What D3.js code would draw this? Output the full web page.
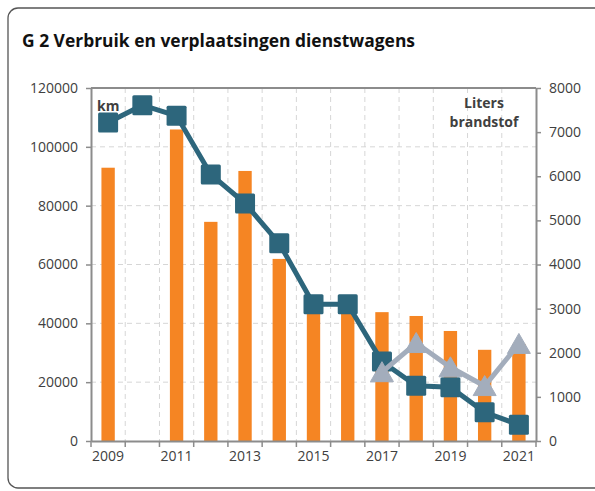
<!DOCTYPE html>
<html>
<head>
<meta charset="utf-8">
<script src="https://cdn.jsdelivr.net/npm/d3@7"></script>
<style>
  body { margin: 0; background: #fff; }
  text { font-family: "Open Sans", "DejaVu Sans", sans-serif; }
</style>
</head>
<body>
<div id="chart"></div>
<script>
// data
const years = ['2009', '2010', '2011', '2012', '2013', '2014', '2015', '2016', '2017', '2018', '2019', '2020', '2021'];
const yearLabels = ['2009', '2011', '2013', '2015', '2017', '2019', '2021'];
const kmValues = [92900, null, 105900, 74500, 91800, 61900, 45000, 44500, 43800, 42500, 37400, 31000, 33000];
const litersLine1 = [7220, 7610, 7370, 6040, 5385, 4480, 3100, 3100, 1800, 1250, 1220, 650, 370];
const litersLine2 = [null, null, null, null, null, null, null, null, 1560, 2220, 1670, 1245, 2200];
const leftTicks = [0, 20000, 40000, 60000, 80000, 100000, 120000];
const rightTicks = [0, 1000, 2000, 3000, 4000, 5000, 6000, 7000, 8000];

const width = 595;
const height = 491;
const plot = { left: 91, right: 536, top: 88, bottom: 441 };

const svg = d3.select('#chart')
    .append('svg')
    .attr('width', width)
    .attr('height', height);

// outer frame
svg.append('rect')
    .attr('x', 8).attr('y', 8)
    .attr('width', 620).attr('height', 480)
    .attr('rx', 10)
    .attr('fill', 'none')
    .attr('stroke', '#555')
    .attr('stroke-width', 1.3);

svg.append('text')
    .attr('x', 22).attr('y', 47)
    .attr('font-size', 18)
    .attr('font-weight', 'bold')
    .attr('fill', '#111')
    .attr('textLength', 393)
    .attr('lengthAdjust', 'spacingAndGlyphs')
    .text('G 2 Verbruik en verplaatsingen dienstwagens');

// scales
const x = d3.scaleBand()
    .domain(years)
    .range([plot.left, plot.right])
    .padding(0);

const yLeft = d3.scaleLinear()
    .domain([0, 120000])
    .range([plot.bottom, plot.top]);

const yRight = d3.scaleLinear()
    .domain([0, 8000])
    .range([plot.bottom, plot.top]);

const bw = x.bandwidth();
const gridColor = '#d6d6d6';
const axisColor = '#8c8c8c';

// gridlines
svg.append('g')
    .selectAll('line')
    .data(leftTicks.slice(1, -1))
    .enter().append('line')
    .attr('x1', plot.left).attr('x2', plot.right)
    .attr('y1', d => yLeft(d)).attr('y2', d => yLeft(d))
    .attr('stroke', gridColor)
    .attr('stroke-dasharray', '5,4');

svg.append('g')
    .selectAll('line')
    .data(years.slice(1))
    .enter().append('line')
    .attr('x1', d => x(d)).attr('x2', d => x(d))
    .attr('y1', plot.top).attr('y2', plot.bottom)
    .attr('stroke', gridColor)
    .attr('stroke-dasharray', '5,4');

// bars
const barW = bw * 0.39;
svg.append('g')
    .selectAll('rect')
    .data(years.map((y, i) => ({ year: y, v: kmValues[i] })).filter(d => d.v != null))
    .enter().append('rect')
    .attr('x', d => x(d.year) + (bw - barW) / 2)
    .attr('y', d => yLeft(d.v))
    .attr('width', barW)
    .attr('height', d => yLeft(0) - yLeft(d.v))
    .attr('fill', '#f58523');

// axes
function styleAxis(g) {
    g.selectAll('.domain').attr('stroke', axisColor).attr('stroke-width', 2);
    g.selectAll('.tick line').attr('stroke', axisColor).attr('stroke-width', 1.5);
    g.selectAll('.tick text')
        .attr('fill', '#404040')
        .attr('font-size', 14)
        .attr('font-family', '"Open Sans", "DejaVu Sans", sans-serif');
}

svg.append('g')
    .attr('transform', `translate(${plot.left},0)`)
    .call(d3.axisLeft(yLeft).tickValues(leftTicks).tickSize(5).tickSizeOuter(0).tickPadding(8).tickFormat(d3.format('d')))
    .call(styleAxis);

svg.append('g')
    .attr('transform', `translate(${plot.right},0)`)
    .call(d3.axisRight(yRight).tickValues(rightTicks).tickSize(5).tickSizeOuter(0).tickPadding(8).tickFormat(d3.format('d')))
    .call(styleAxis);

// top border
svg.append('line')
    .attr('x1', plot.left).attr('x2', plot.right)
    .attr('y1', plot.top).attr('y2', plot.top)
    .attr('stroke', axisColor).attr('stroke-width', 2);

const xAxis = svg.append('g')
    .attr('transform', `translate(0,${plot.bottom})`)
    .call(d3.axisBottom(x).tickValues(yearLabels).tickSize(0).tickPadding(10).tickSizeOuter(0))
    .call(styleAxis);

// tick marks at category boundaries
xAxis.selectAll('.bound')
    .data(years.concat(['end']))
    .enter().append('line')
    .attr('x1', d => d === 'end' ? plot.right : x(d))
    .attr('x2', d => d === 'end' ? plot.right : x(d))
    .attr('y1', 0).attr('y2', 6)
    .attr('stroke', axisColor).attr('stroke-width', 1.5);

// lines
const line = d3.line()
    .defined(d => d.v != null)
    .x(d => x(d.year) + bw / 2)
    .y(d => yRight(d.v));

const s1 = years.map((y, i) => ({ year: y, v: litersLine1[i] }));
const s2 = years.map((y, i) => ({ year: y, v: litersLine2[i] }));

const dark = '#2d667c';
const grey = '#a3adbc';

svg.append('path')
    .datum(s1)
    .attr('d', line)
    .attr('fill', 'none')
    .attr('stroke', dark)
    .attr('stroke-width', 5);

svg.append('g')
    .selectAll('rect')
    .data(s1)
    .enter().append('rect')
    .attr('x', d => x(d.year) + bw / 2 - 10)
    .attr('y', d => yRight(d.v) - 10)
    .attr('width', 20).attr('height', 20)
    .attr('rx', 1.5)
    .attr('fill', dark);

svg.append('path')
    .datum(s2)
    .attr('d', line)
    .attr('fill', 'none')
    .attr('stroke', grey)
    .attr('stroke-width', 5);

svg.append('g')
    .selectAll('path')
    .data(s2.filter(d => d.v != null))
    .enter().append('path')
    .attr('transform', d => `translate(${x(d.year) + bw / 2},${yRight(d.v)})`)
    .attr('d', 'M0,-10.5L11.5,9.5L-11.5,9.5Z')
    .attr('stroke', grey)
    .attr('stroke-width', 1)
    .attr('stroke-linejoin', 'round')
    .attr('fill', grey);

// series labels
svg.append('text')
    .attr('x', 97).attr('y', 111)
    .attr('font-size', 14)
    .attr('font-weight', 'bold')
    .attr('fill', '#404040')
    .text('km');

svg.append('text')
    .attr('x', 484).attr('y', 108)
    .attr('text-anchor', 'middle')
    .attr('font-size', 14)
    .attr('font-weight', 'bold')
    .attr('fill', '#404040')
    .text('Liters');

svg.append('text')
    .attr('x', 484).attr('y', 127)
    .attr('text-anchor', 'middle')
    .attr('font-size', 14)
    .attr('font-weight', 'bold')
    .attr('fill', '#404040')
    .text('brandstof');
</script>
</body>
</html>
